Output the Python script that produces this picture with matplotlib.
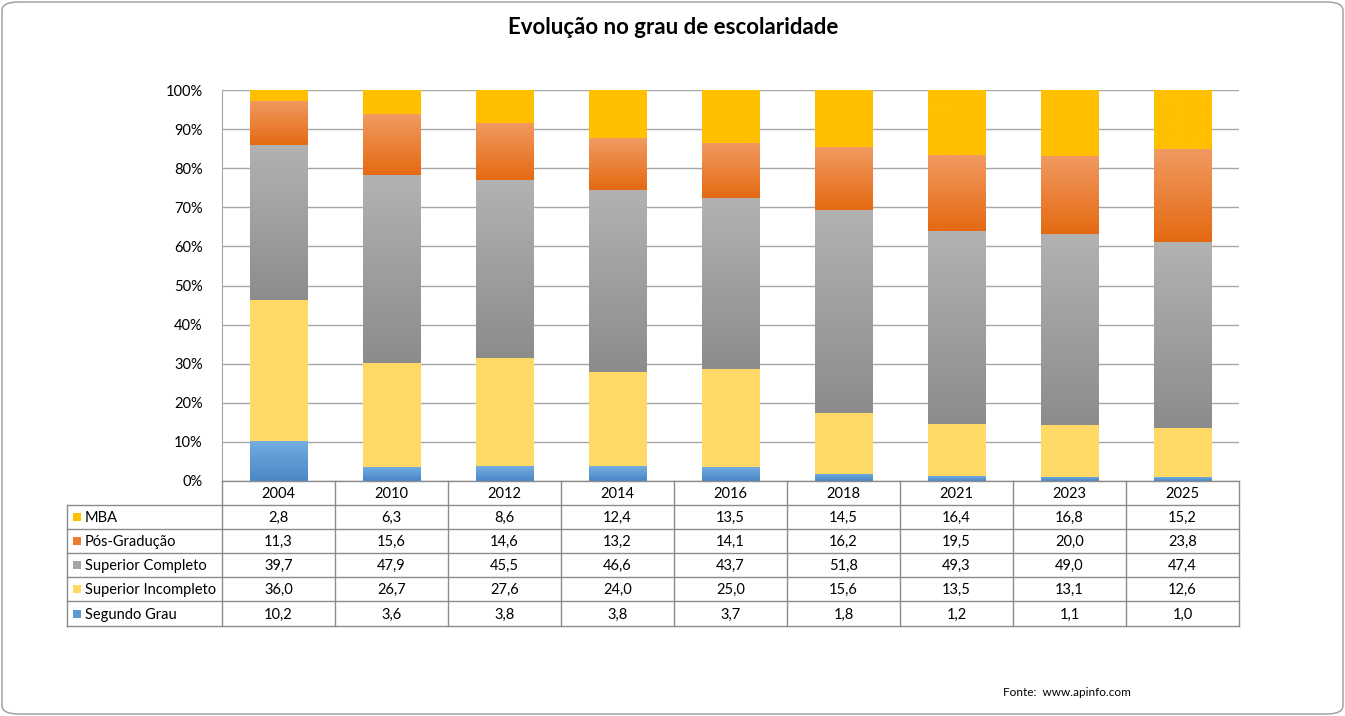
import numpy as np
import matplotlib
matplotlib.use('Agg')
import matplotlib.pyplot as plt
from matplotlib.patches import FancyBboxPatch, Rectangle
from matplotlib.colors import to_rgb

plt.rcParams['font.family'] = ['Lato', 'DejaVu Sans']

years = ['2004', '2010', '2012', '2014', '2016', '2018', '2021', '2023', '2025']
# stacking order: bottom -> top
series = ['Segundo Grau', 'Superior Incompleto', 'Superior Completo', 'Pós-Gradução', 'MBA']
segundo = [10.2, 3.6, 3.8, 3.8, 3.7, 1.8, 1.2, 1.1, 1.0]
sup_inc = [36.0, 26.7, 27.6, 24.0, 25.0, 15.6, 13.5, 13.1, 12.6]
sup_comp = [39.7, 47.9, 45.5, 46.6, 43.7, 51.8, 49.3, 49.0, 47.4]
pos = [11.3, 15.6, 14.6, 13.2, 14.1, 16.2, 19.5, 20.0, 23.8]
mba = [2.8, 6.3, 8.6, 12.4, 13.5, 14.5, 16.4, 16.8, 15.2]
values = [segundo, sup_inc, sup_comp, pos, mba]

# (top colour, bottom colour) for each series gradient
grads = [('#74ADE0', '#4A86C6'),
         ('#FFD966', '#FFD966'),
         ('#B2B2B2', '#8C8C8C'),
         ('#F19A62', '#E46A12'),
         ('#FFC000', '#FFC000')]
swatch = ['#5B9BD5', '#FFD966', '#A5A5A5', '#ED7D31', '#FFC000']

W, H = 1345, 716
fig = plt.figure(figsize=(W / 100, H / 100), dpi=100)

# rounded frame
frame = FancyBboxPatch((2 / W, 2 / H), (W - 4) / W, (H - 4) / H,
                       boxstyle='round,pad=0,rounding_size=0.012',
                       transform=fig.transFigure, fill=False, ec='#9A9A9A', lw=1)
fig.patches.append(frame)

fig.text(673 / W, 1 - 27 / H, 'Evolução no grau de escolaridade', ha='center', va='center',
         fontsize=16, fontweight='bold', color='black')

x0, x1, ytop, ybot = 222, 1239, 90, 481
ax = fig.add_axes([x0 / W, 1 - ybot / H, (x1 - x0) / W, (ybot - ytop) / H])
n = len(years)
x = np.arange(n)
bw = 0.51
bottom = np.zeros(n)
for vals, (ct, cb) in zip(values, grads):
    vals = np.array(vals)
    bars = ax.bar(x, vals, bw, bottom=bottom, color=cb, lw=0, zorder=2)
    grad = np.linspace(to_rgb(ct), to_rgb(cb), 64).reshape(64, 1, 3)
    for b in bars:
        im = ax.imshow(grad, extent=(b.get_x(), b.get_x() + b.get_width(),
                                     b.get_y(), b.get_y() + b.get_height()),
                       aspect='auto', interpolation='bilinear', zorder=3)
        im.set_clip_path(b)
    bottom += vals

ax.set_xlim(-0.5, n - 0.5)
ax.set_ylim(0, 100)
ax.set_yticks(np.arange(0, 101, 10))
ax.set_yticklabels([f'{t}%' for t in range(0, 101, 10)], fontsize=10.5)
ax.set_xticks([])
ax.yaxis.grid(True, color='#A6A6A6', lw=1, zorder=0)
ax.tick_params(axis='y', length=0, pad=14)
for s in ['top', 'right', 'bottom']:
    ax.spines[s].set_visible(False)
ax.spines['left'].set_color('#A6A6A6')

# data table
tx0 = 67
rows_y = [481, 505, 529, 553, 577, 601, 626]
col_w = (x1 - x0) / n
tab = fig.add_axes([0, 0, 1, 1], facecolor='none')
tab.set_xlim(0, W)
tab.set_ylim(H, 0)
tab.axis('off')
lc = '#8C8C8C'
# horizontal lines
tab.plot([x0, x1], [rows_y[0], rows_y[0]], color=lc, lw=1)
for yy in rows_y[1:]:
    tab.plot([tx0, x1], [yy, yy], color=lc, lw=1)
# vertical lines
tab.plot([tx0, tx0], [rows_y[1], rows_y[-1]], color=lc, lw=1)
for j in range(n + 1):
    xx = x0 + j * col_w
    tab.plot([xx, xx], [rows_y[0], rows_y[-1]], color=lc, lw=1)

for j, yr in enumerate(years):
    tab.text(x0 + (j + 0.5) * col_w, (rows_y[0] + rows_y[1]) / 2 + 1, yr,
             ha='center', va='center', fontsize=10.5)

for i, k in enumerate(range(len(series) - 1, -1, -1)):
    yc = (rows_y[i + 1] + rows_y[i + 2]) / 2 + 1
    tab.add_patch(Rectangle((73, yc - 5), 8, 8, color=swatch[k], lw=0))
    tab.text(85, yc, series[k], ha='left', va='center', fontsize=10.5)
    for j in range(n):
        tab.text(x0 + (j + 0.5) * col_w, yc, f'{values[k][j]:.1f}'.replace('.', ','),
                 ha='center', va='center', fontsize=10.5)

fig.text(1003 / W, 1 - 692 / H, 'Fonte:  www.apinfo.com', ha='left', va='center', fontsize=8.5)

fig.savefig('out.png', dpi=100)
